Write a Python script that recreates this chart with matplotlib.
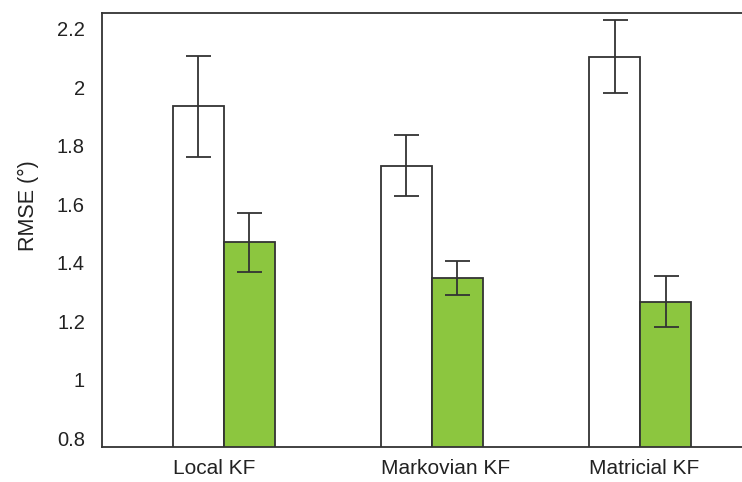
import numpy as np
import matplotlib
matplotlib.use("Agg")
import matplotlib.pyplot as plt

plt.rcParams['font.family'] = ['Liberation Sans', 'DejaVu Sans']

methods = ['Local KF', 'Markovian KF', 'Matricial KF']
rmse_a = [1.935, 1.732, 2.105]
err_a = [0.173, 0.105, 0.125]
rmse_b = [1.470, 1.348, 1.267]
err_b = [0.100, 0.058, 0.086]

green = '#8cc63f'
edge = '#333333'
w = 0.245
x = np.arange(len(methods))

fig = plt.figure(figsize=(7.42, 4.82), dpi=100)
ax = fig.add_axes([0.137, 0.0732, 0.863, 0.9005])

errkw = dict(ecolor=edge, elinewidth=1.3, capsize=9, capthick=1.3)
ax.bar(x - w / 2, rmse_a, w, yerr=err_a, color='white', edgecolor=edge,
       linewidth=1.3, error_kw=errkw)
ax.bar(x + w / 2, rmse_b, w, yerr=err_b, color=green, edgecolor=edge,
       linewidth=1.3, error_kw=errkw)

ax.set_xlim(-0.587, 2.49)
ax.set_ylim(0.771, 2.255)
ax.set_yticks([0.8, 1.0, 1.2, 1.4, 1.6, 1.8, 2.0, 2.2])
ax.set_yticklabels(['0.8', '1', '1.2', '1.4', '1.6', '1.8', '2', '2.2'])
# category names start at the left edge of each group
ax.set_xticks(x - w)
ax.set_xticklabels(methods, ha='left')
ax.tick_params(axis='y', length=0, pad=12, labelsize=14.5, labelcolor='#222222')
ax.tick_params(axis='x', length=0, pad=9, labelsize=15, labelcolor='#222222')

ax.spines['right'].set_visible(False)
for s in ['left', 'top', 'bottom']:
    ax.spines[s].set_color(edge)
    ax.spines[s].set_linewidth(1.3)

fig.text(28 / 742, 1 - 206 / 482, 'RMSE (°)', rotation=90, ha='center',
         va='center', fontsize=15.5, color='#222222')

fig.savefig('out.png', dpi=100)
